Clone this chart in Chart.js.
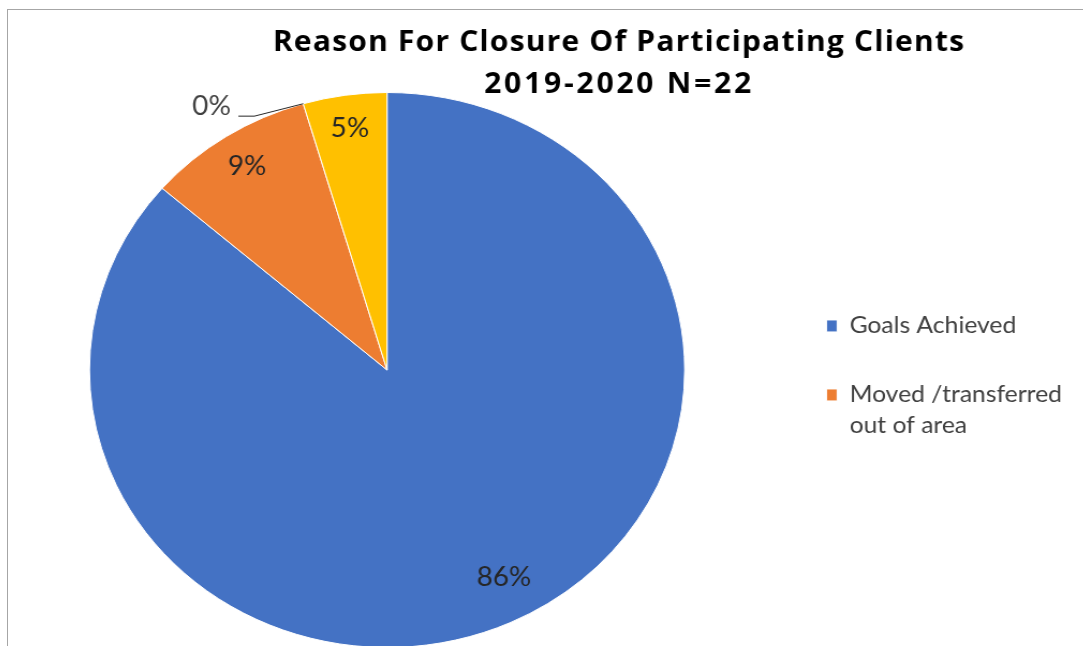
<!DOCTYPE html>
<html>
<head>
<meta charset="utf-8">
<script src="https://cdn.jsdelivr.net/npm/chart.js@4.4.1/dist/chart.umd.min.js"></script>
<style>
  html, body { margin: 0; padding: 0; background: #fff; overflow: hidden; width: 1083px; height: 646px; }
  #frame { position: absolute; left: 7px; top: 9px; width: 1300px; height: 900px;
           border-left: 1px solid #a6a6a6; border-top: 1px solid #a6a6a6; box-sizing: border-box; }
  /* the chart is drawn slightly wide, as in the exported report figure */
  #stage { position: absolute; left: -3.3px; top: 0; transform: scaleX(1.0725); transform-origin: 0 0; }
  canvas { display: block; }
</style>
</head>
<body>
<div id="frame"></div>
<div id="stage"><canvas id="closure" width="1013" height="660"></canvas></div>
<script>
// Reasons for closure, client counts (N = 22)
const categories = ['Goals Achieved', ['Moved /transferred', 'out of area'], 'Declined services', 'Other'];
const clients = [19, 2, 0, 1];
const sliceColors = ['#4472C4', '#ED7D31', '#A5A5A5', '#FFC000'];
const titleLines = ['Reason For Closure Of Participating Clients', '2019-2020 N=22'];
const legendShown = 2;

// label placement along each slice (fraction of radius, angular nudge in degrees)
const labelRadius = [0.845, 0.87, 1.0, 0.878];
const labelTurn = [-3.15, 0, 0, 0];

const FONT = 'Lato, "Open Sans", sans-serif';
const TITLE_FONT = '"Open Sans", Lato, sans-serif';
const titleSpacing = ['1.1px', '2.6px'];

const titlePlugin = {
  id: 'closureTitle',
  afterDraw(chart) {
    const ctx = chart.ctx;
    ctx.save();
    ctx.font = 'bold 28px ' + TITLE_FONT;
    ctx.fillStyle = '#000000';
    ctx.textAlign = 'center';
    ctx.textBaseline = 'middle';
    const cx = 580;
    titleLines.forEach((line, i) => {
      if ('letterSpacing' in ctx) ctx.letterSpacing = titleSpacing[i];
      ctx.fillText(line, cx, 43 + i * 42);
    });
    ctx.restore();
  }
};

const percentLabels = {
  id: 'percentLabels',
  afterDatasetsDraw(chart) {
    const ctx = chart.ctx;
    const values = chart.data.datasets[0].data;
    const total = values.reduce((a, b) => a + b, 0);
    const meta = chart.getDatasetMeta(0);
    ctx.save();
    ctx.font = '26px ' + FONT;
    ctx.fillStyle = '#262626';
    meta.data.forEach((arc, i) => {
      const p = arc.getProps(['x', 'y', 'startAngle', 'endAngle', 'outerRadius'], true);
      const text = Math.round(values[i] / total * 100) + '%';
      if (values[i] === 0) {
        // empty slice: leader line from the rim out to the left
        const ex = p.x + Math.cos(p.startAngle) * p.outerRadius;
        const ey = p.y + Math.sin(p.startAngle) * p.outerRadius;
        const kx = ex - 45.5, ky = ey + 12.4, lx = kx - 15;
        ctx.beginPath();
        ctx.moveTo(ex, ey);
        ctx.lineTo(kx, ky);
        ctx.lineTo(lx, ky);
        ctx.strokeStyle = '#262626';
        ctx.lineWidth = 1;
        ctx.stroke();
        ctx.fillStyle = '#404040';
        ctx.textAlign = 'right';
        ctx.textBaseline = 'alphabetic';
        ctx.fillText(text, lx - 7, ky - 1);
        ctx.fillStyle = '#262626';
        return;
      }
      const mid = (p.startAngle + p.endAngle) / 2 + labelTurn[i] * Math.PI / 180;
      const r = p.outerRadius * labelRadius[i];
      ctx.textAlign = 'center';
      ctx.textBaseline = 'middle';
      ctx.fillText(text, p.x + Math.cos(mid) * r, p.y + Math.sin(mid) * r);
    });
    ctx.restore();
  }
};

new Chart(document.getElementById('closure'), {
  type: 'pie',
  data: {
    labels: categories,
    datasets: [{
      data: clients,
      backgroundColor: sliceColors,
      borderColor: '#ffffff',
      borderWidth: 1
    }]
  },
  options: {
    responsive: false,
    animation: false,
    layout: { padding: { top: 92, bottom: 12, left: 0, right: 10 } },
    plugins: {
      title: { display: false },
      tooltip: { enabled: false },
      legend: {
        position: 'right',
        align: 'center',
        title: { display: true, text: '', padding: 0, font: { size: 20, lineHeight: 1 } },
        labels: {
          filter: (item) => item.index < legendShown,
          boxWidth: 10,
          boxHeight: 12,
          padding: 46,
          color: '#404040',
          font: { family: FONT, size: 23, lineHeight: 1.35 }
        }
      }
    }
  },
  plugins: [percentLabels, titlePlugin]
});
</script>
</body>
</html>
